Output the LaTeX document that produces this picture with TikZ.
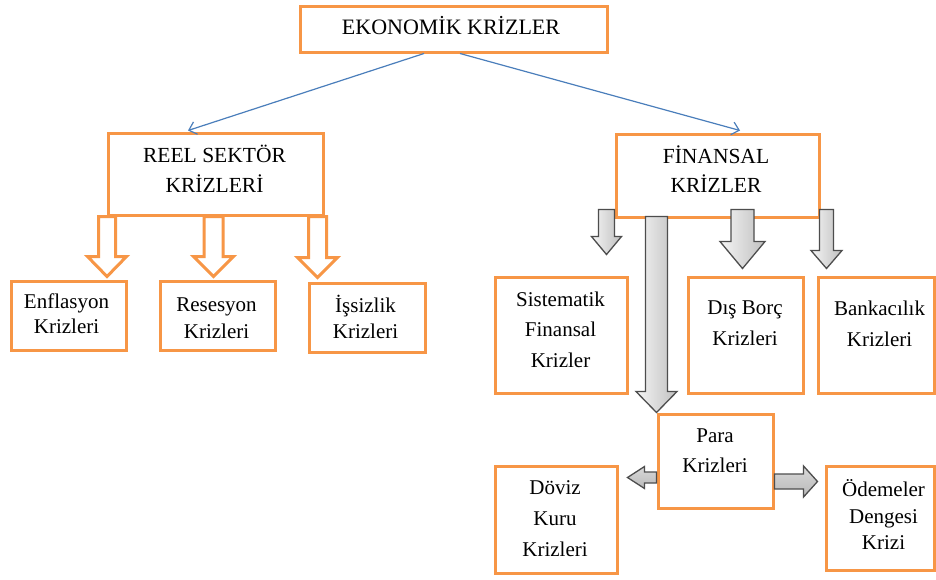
\documentclass[tikz,border=0pt]{standalone}
\usepackage{fontspec}
\setmainfont{Liberation Serif}
\usetikzlibrary{arrows.meta,calc}
\definecolor{ora}{HTML}{F79646}
\definecolor{bl}{HTML}{4A7EBB}
\definecolor{gline}{HTML}{4D4D4D}
% vertical block arrow: style, start, tip, half shaft, half head, head length
\newcommand{\vblock}[6]{\path[#1] let \p1=#2, \p2=#3 in
  (\x1-#4,\y1) -- (\x1-#4,\y2+#6) -- (\x1-#5,\y2+#6) -- (\x1,\y2) --
  (\x1+#5,\y2+#6) -- (\x1+#4,\y2+#6) -- (\x1+#4,\y1) -- cycle;}
% rightward block arrow
\newcommand{\rblock}[6]{\path[#1] let \p1=#2, \p2=#3 in
  (\x1,\y1+#4) -- (\x2-#6,\y1+#4) -- (\x2-#6,\y1+#5) -- (\x2,\y1) --
  (\x2-#6,\y1-#5) -- (\x2-#6,\y1-#4) -- (\x1,\y1-#4) -- cycle;}
% leftward block arrow
\newcommand{\lblock}[6]{\path[#1] let \p1=#2, \p2=#3 in
  (\x1,\y1+#4) -- (\x2+#6,\y1+#4) -- (\x2+#6,\y1+#5) -- (\x2,\y1) --
  (\x2+#6,\y1-#5) -- (\x2+#6,\y1-#4) -- (\x1,\y1-#4) -- cycle;}
\tikzset{
  box/.style n args={2}{draw=ora, line width=3pt, fill=white, inner sep=0pt,
    minimum width=#1, minimum height=#2},
  txt/.style={align=center, inner sep=0pt, text=black},
  conn/.style={draw=bl, line width=1.2pt, -{Straight Barb[length=7pt,width=13pt]}},
  oarr/.style={draw=ora, fill=white, line width=3pt},
  garrv/.style={draw=gline, line width=1.3pt, left color=gray!8, right color=gray!50},
  garrh/.style={draw=gline, line width=1.3pt, top color=gray!30, middle color=gray!5, bottom color=gray!55}
}
\begin{document}
\begin{tikzpicture}[x=1pt,y=-1pt]
\fill[white] (0,0) rectangle (936,579);
\useasboundingbox (0,0) rectangle (936,579);
% boxes
\node[box={307pt}{46pt}] (eko) at (453.5,29) {};
\node[box={215pt}{82pt}] (reel) at (215.5,174) {};
\node[box={203pt}{83pt}] (fin) at (717.5,175.5) {};
\node[box={115pt}{69pt}] (enf) at (68.5,315.5) {};
\node[box={115pt}{69pt}] (res) at (217.5,315.5) {};
\node[box={116pt}{69pt}] (iss) at (367,317.5) {};
\node[box={132pt}{116pt}] (sis) at (561,335) {};
\node[box={115pt}{116pt}] (dis) at (745.5,335) {};
\node[box={116pt}{116pt}] (ban) at (876,335) {};
\node[box={115pt}{94pt}] (para) at (715.5,461) {};
\node[box={122pt}{107pt}] (dov) at (556,519.5) {};
\node[box={108pt}{104pt}] (ode) at (880,518) {};
% texts
\node[txt, font=\fontsize{22}{26}\selectfont] (eko-t) at (451,25.7) {EKONOMİK KRİZLER};
\node[txt, font=\fontsize{21.5}{30}\selectfont] (reel-t) at (214.5,169) {REEL SEKTÖR\\KRİZLERİ};
\node[txt, font=\fontsize{21.5}{29}\selectfont] (fin-t) at (716,169.5) {FİNANSAL\\KRİZLER};
\node[txt, font=\fontsize{21}{25}\selectfont] (enf-t) at (66.5,313.4) {Enflasyon\\Krizleri};
\node[txt, font=\fontsize{21}{26.5}\selectfont] (res-t) at (216.5,318) {Resesyon\\Krizleri};
\node[txt, font=\fontsize{21}{26}\selectfont] (iss-t) at (365.5,317) {İşsizlik\\Krizleri};
\node[txt, font=\fontsize{21}{30.5}\selectfont] (sis-t) at (560.5,329.4) {Sistematik\\Finansal\\Krizler};
\node[txt, font=\fontsize{21}{31}\selectfont] (dis-t) at (745,323.5) {Dış Borç\\Krizleri};
\node[txt, font=\fontsize{21}{31}\selectfont] (ban-t) at (879.5,323.5) {Bankacılık\\Krizleri};
\node[txt, font=\fontsize{21}{30}\selectfont] (para-t) at (715,451) {Para\\Krizleri};
\node[txt, font=\fontsize{21}{31}\selectfont] (dov-t) at (555,519) {Döviz\\Kuru\\Krizleri};
\node[txt, font=\fontsize{21}{26.5}\selectfont] (ode-t) at (883.5,514.5) {Ödemeler\\Dengesi\\Krizi};
% thin connectors
\draw[conn] ($(eko.south)+(-29.5,0)$) -- ($(reel.north)+(-27.5,-1)$);
\draw[conn] ($(eko.south)+(6.5,0)$) -- ($(fin.north)+(22.5,-2)$);
% orange hollow arrows
\vblock{oarr}{($(reel.south west)+(0.5,0)$)}{($(enf.north)+(0,-3)$)}{8.5pt}{19.5pt}{20pt}
\vblock{oarr}{($(reel.south)+(-2,0)$)}{($(res.north)+(0,-3)$)}{9.5pt}{20pt}{20pt}
\vblock{oarr}{($(reel.south east)+(-7,0)$)}{($(iss.north)+(0,-4)$)}{9pt}{20pt}{20pt}
% gray block arrows
\vblock{garrv}{($(fin.south west)+(-8,-9)$)}{($(sis.north)+(0,-21)$)}{8pt}{15pt}{18pt}
\vblock{garrv}{($(fin.south west)+(42,-2)$)}{(para.north west)}{11pt}{20.5pt}{21pt}
\vblock{garrv}{($(fin.south)+(25,-9)$)}{($(dis.north)+(0,-7)$)}{11.5pt}{22.5pt}{27pt}
\vblock{garrv}{($(fin.south east)+(6,-9)$)}{($(ban.north)+(0,-7)$)}{7pt}{15.5pt}{18pt}
\lblock{garrh}{($(para.west)+(0,16.5)$)}{($(dov.east)+(9,0)$)}{5.5pt}{11pt}{17pt}
\rblock{garrh}{($(para.east)+(0,20.5)$)}{($(ode.west)+(-7,0)$)}{7.5pt}{15.5pt}{14pt}
\end{tikzpicture}
\end{document}
